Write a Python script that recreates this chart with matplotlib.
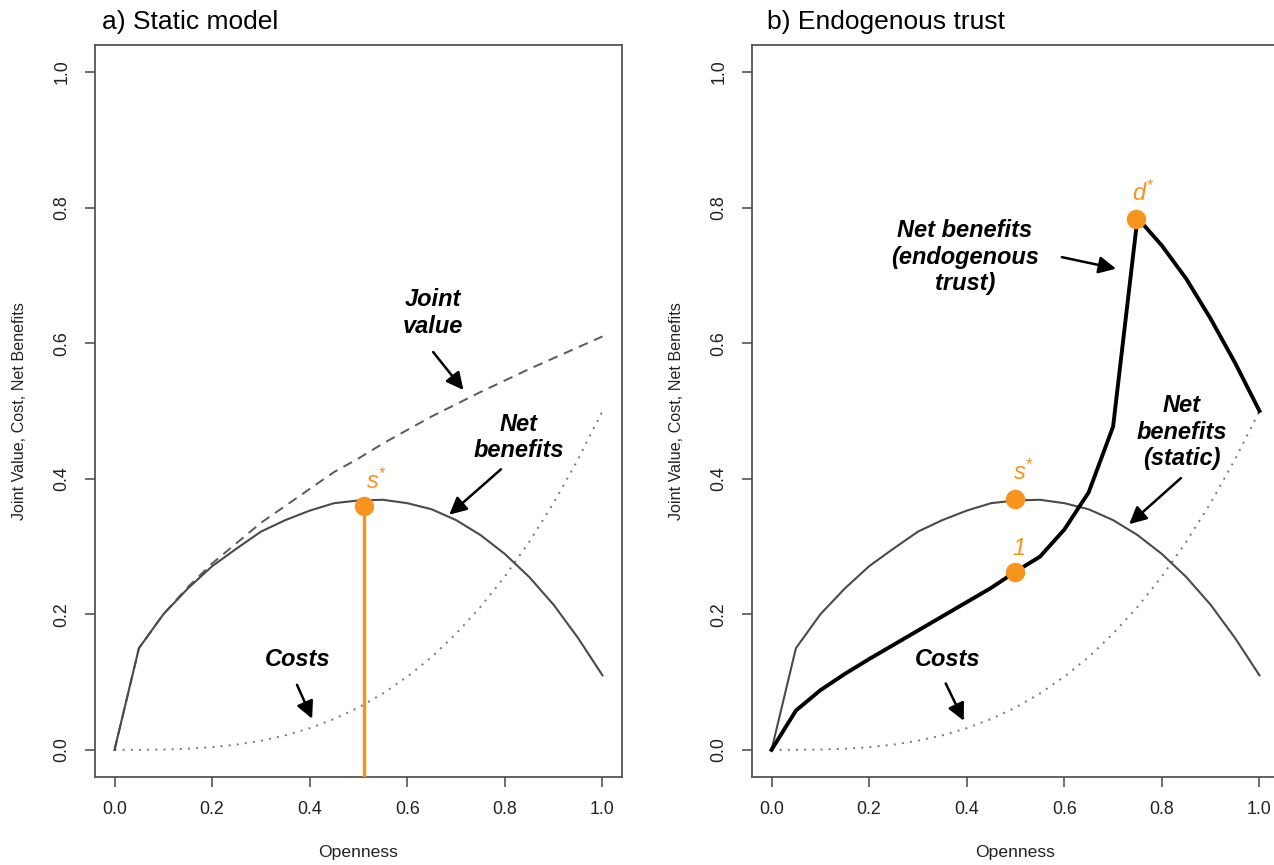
import matplotlib
matplotlib.use("Agg")
import matplotlib.pyplot as plt

plt.rcParams['font.family'] = ['Liberation Sans', 'DejaVu Sans']
plt.rcParams['mathtext.fontset'] = 'custom'
plt.rcParams['mathtext.rm'] = 'Liberation Sans'
plt.rcParams['mathtext.it'] = 'Liberation Sans:italic'
plt.rcParams['mathtext.bf'] = 'Liberation Sans:bold'

# ---------------- data ----------------
openness = [0.0, 0.05, 0.10, 0.15, 0.20, 0.25, 0.30, 0.35, 0.40, 0.45, 0.50,
            0.55, 0.60, 0.65, 0.70, 0.75, 0.80, 0.85, 0.90, 0.95, 1.00]
joint_value = [0.0, 0.150, 0.200, 0.240, 0.275, 0.305, 0.335, 0.360, 0.385, 0.410, 0.430,
               0.452, 0.472, 0.492, 0.510, 0.528, 0.545, 0.562, 0.578, 0.594, 0.610]
costs = [0.0, 0.0001, 0.0005, 0.0017, 0.004, 0.0078, 0.0135, 0.0214, 0.032, 0.0456, 0.0625,
         0.0832, 0.108, 0.137, 0.1715, 0.211, 0.256, 0.307, 0.3645, 0.4287, 0.500]
net_static = [0.0, 0.150, 0.200, 0.238, 0.271, 0.297, 0.322, 0.339, 0.353, 0.364, 0.368,
              0.369, 0.364, 0.355, 0.339, 0.317, 0.289, 0.255, 0.214, 0.165, 0.110]
openness_endo = [0.0, 0.05, 0.10, 0.15, 0.20, 0.25, 0.30, 0.35, 0.40, 0.45, 0.50,
                 0.55, 0.60, 0.65, 0.70, 0.75, 0.80, 0.85, 0.90, 0.95, 1.00]
net_endogenous = [0.0, 0.058, 0.088, 0.112, 0.134, 0.155, 0.176, 0.197, 0.218, 0.239, 0.263,
                  0.285, 0.325, 0.380, 0.477, 0.785, 0.744, 0.695, 0.636, 0.571, 0.500]

s_star_a = (0.511, 0.360)
s_star_b = (0.50, 0.370)
one_point = (0.50, 0.263)
d_star = (0.747, 0.783)

x_ticks = [0.0, 0.2, 0.4, 0.6, 0.8, 1.0]
y_ticks = [0.0, 0.2, 0.4, 0.6, 0.8, 1.0]
tick_labels = ['0.0', '0.2', '0.4', '0.6', '0.8', '1.0']

ORANGE = '#F7941D'
GRAY_LINE = '#4a4a4a'
SPINE = '#555555'

W, H = 1274, 865
fig = plt.figure(figsize=(W / 100, H / 100), dpi=100)


def px_axes(left, right, top, bottom):
    return fig.add_axes([left / W, 1 - bottom / H, (right - left) / W, (bottom - top) / H])


axA = px_axes(95, 622, 45, 777)
axB = px_axes(752, 1279, 45, 777)

for ax in (axA, axB):
    ax.set_xlim(-0.04, 1.04)
    ax.set_ylim(-0.04, 1.04)
    ax.set_xticks(x_ticks)
    ax.set_xticklabels(tick_labels, fontsize=12.8)
    ax.set_yticks(y_ticks)
    ax.set_yticklabels(tick_labels, fontsize=12.8, rotation=90, va='center')
    ax.tick_params(direction='out', length=7.5, width=1.2, colors=SPINE, pad=10)
    for lab in ax.get_xticklabels() + ax.get_yticklabels():
        lab.set_color('#222222')
    for sp in ax.spines.values():
        sp.set_color(SPINE)
        sp.set_linewidth(1.3)
    ax.set_xlabel('Openness', fontsize=12.6, labelpad=19, color='#222222')
    ax.set_ylabel('Joint Value, Cost, Net Benefits', fontsize=11.6, labelpad=19, color='#222222')
    # costs (dotted)
    ax.plot(openness, costs, color='#777777', lw=1.4, ls=(0, (1, 3.2)))

arrow_kw = dict(arrowstyle='-|>', color='black', lw=1.8, mutation_scale=26,
                shrinkA=0, shrinkB=0)
lab_kw = dict(fontsize=17, fontweight='bold', fontstyle='italic', ha='center', va='center',
              linespacing=1.2)

# ---------------- panel a ----------------
axA.plot(openness, joint_value, color='#5a5a5a', lw=1.4, ls=(0, (5, 3.5)))
axA.plot(openness, net_static, color=GRAY_LINE, lw=1.5)
axA.plot([s_star_a[0], s_star_a[0]], [-0.04, s_star_a[1]], color=ORANGE, lw=2.5, zorder=4)
axA.plot([s_star_a[0]], [s_star_a[1]], 'o', color=ORANGE, ms=13, zorder=5)
axA.text(0.536, 0.385, r'$s^{*}$', color=ORANGE, fontsize=17, ha='center', va='baseline')

axA.text(0.653, 0.645, 'Joint\nvalue', **lab_kw)
axA.annotate('', xy=(0.715, 0.531), xytext=(0.653, 0.587), arrowprops=arrow_kw)
axA.text(0.828, 0.461, 'Net\nbenefits', **lab_kw)
axA.annotate('', xy=(0.686, 0.347), xytext=(0.792, 0.414), arrowprops=arrow_kw)
axA.text(0.376, 0.133, 'Costs', **lab_kw)
axA.annotate('', xy=(0.405, 0.046), xytext=(0.374, 0.096), arrowprops=arrow_kw)

# ---------------- panel b ----------------
axB.plot(openness, net_static, color=GRAY_LINE, lw=1.5)
axB.plot(openness_endo, net_endogenous, color='black', lw=2.8)
for (px, py) in (s_star_b, one_point, d_star):
    axB.plot([px], [py], 'o', color=ORANGE, ms=13, zorder=5)
axB.text(0.517, 0.398, r'$s^{*}$', color=ORANGE, fontsize=17, ha='center', va='baseline')
axB.text(0.507, 0.288, '1', color=ORANGE, fontsize=17, ha='center', va='baseline',
         fontstyle='italic')
axB.text(0.762, 0.81, r'$d^{*}$', color=ORANGE, fontsize=17, ha='center', va='baseline')

axB.text(0.396, 0.727, 'Net benefits\n(endogenous\ntrust)', **lab_kw)
axB.annotate('', xy=(0.706, 0.710), xytext=(0.595, 0.727), arrowprops=arrow_kw)
axB.text(0.841, 0.469, 'Net\nbenefits\n(static)', **lab_kw)
axB.annotate('', xy=(0.733, 0.333), xytext=(0.839, 0.401), arrowprops=arrow_kw)
axB.text(0.361, 0.133, 'Costs', **lab_kw)
axB.annotate('', xy=(0.394, 0.043), xytext=(0.357, 0.098), arrowprops=arrow_kw)

# titles
fig.text(102 / W, 1 - 29 / H, 'a) Static model', fontsize=19, ha='left', va='baseline')
fig.text(767 / W, 1 - 29 / H, 'b) Endogenous trust', fontsize=19, ha='left', va='baseline')

fig.savefig('out.png', dpi=100)
